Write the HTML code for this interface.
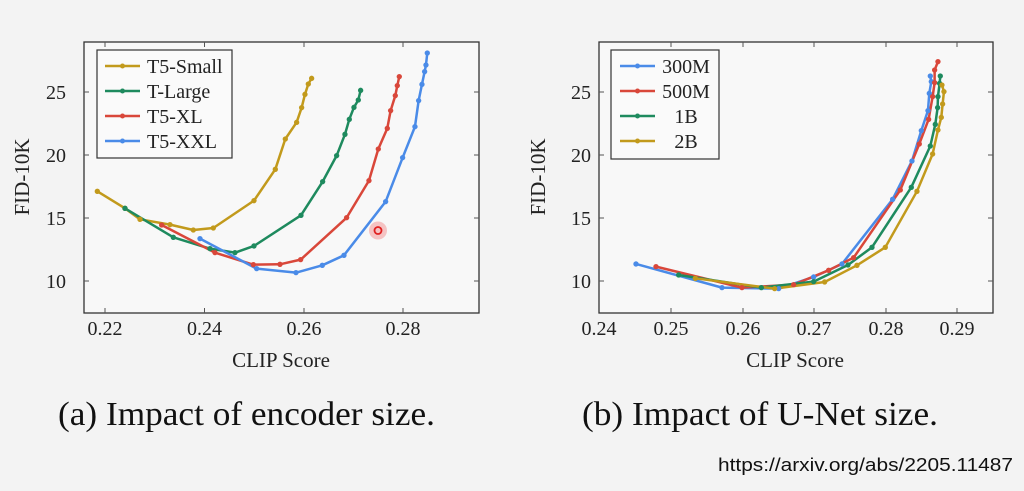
<!DOCTYPE html>
<html><head><meta charset="utf-8"><style>
html,body{margin:0;padding:0;background:#f3f3f3;}
svg{display:block;}
</style></head><body>
<svg width="1024" height="491" viewBox="0 0 1024 491" xmlns="http://www.w3.org/2000/svg" font-family="Liberation Serif, serif">
<rect width="1024" height="491" fill="#f3f3f3"/>
<!-- LEFT CHART -->
<rect x="84" y="42" width="395" height="271" fill="#f8f8f8" stroke="#333" stroke-width="1.3"/>
<g stroke="#555" stroke-width="1">
<line x1="105" y1="313" x2="105" y2="308"/><line x1="105" y1="42" x2="105" y2="47"/>
<line x1="204.5" y1="313" x2="204.5" y2="308"/><line x1="204.5" y1="42" x2="204.5" y2="47"/>
<line x1="304" y1="313" x2="304" y2="308"/><line x1="304" y1="42" x2="304" y2="47"/>
<line x1="403" y1="313" x2="403" y2="308"/><line x1="403" y1="42" x2="403" y2="47"/>
<line x1="84" y1="92" x2="89" y2="92"/><line x1="479" y1="92" x2="474" y2="92"/>
<line x1="84" y1="155" x2="89" y2="155"/><line x1="479" y1="155" x2="474" y2="155"/>
<line x1="84" y1="218" x2="89" y2="218"/><line x1="479" y1="218" x2="474" y2="218"/>
<line x1="84" y1="281" x2="89" y2="281"/><line x1="479" y1="281" x2="474" y2="281"/>
</g>
<g font-size="20" fill="#222" text-anchor="middle">
<text x="105" y="335">0.22</text><text x="204.5" y="335">0.24</text><text x="304" y="335">0.26</text><text x="403" y="335">0.28</text>
</g>
<g font-size="20" fill="#222" text-anchor="end">
<text x="66" y="99">25</text><text x="66" y="162">20</text><text x="66" y="225">15</text><text x="66" y="288">10</text>
</g>
<text x="281" y="367" font-size="21" text-anchor="middle" fill="#222">CLIP Score</text>
<text transform="translate(29,177) rotate(-90)" font-size="21" text-anchor="middle" fill="#222">FID-10K</text>

<g transform="translate(0,30) scale(0.3333)" fill="none" stroke-width="7.5" stroke-linejoin="round">
<polyline stroke="#c29a1c" points="292,484 375,535 420,568 510,584 580,600 640,594 762,512 826,418 856,327 890,277 905,233 915,193 925,162 935,145"/>
<polyline stroke="#1e8a5e" points="375,535 520,622 630,656 705,668 762,648 903,556 968,455 1010,377 1035,313 1048,268 1062,232 1075,210 1082,181"/>
<polyline stroke="#d9473a" points="485,585 645,668 760,704 840,703 902,689 1040,563 1107,452 1135,357 1162,295 1172,242 1186,197 1192,167 1198,140"/>
<polyline stroke="#4a8be8" points="600,626 770,716 888,728 967,706 1032,676 1157,515 1208,383 1245,290 1256,212 1266,163 1274,125 1278,105 1282,69"/>
</g>
<g transform="translate(0,30) scale(0.3333)">
<g fill="#c29a1c"><circle cx="292" cy="484" r="8"/><circle cx="375" cy="535" r="8"/><circle cx="420" cy="568" r="8"/><circle cx="510" cy="584" r="8"/><circle cx="580" cy="600" r="8"/><circle cx="640" cy="594" r="8"/><circle cx="762" cy="512" r="8"/><circle cx="826" cy="418" r="8"/><circle cx="856" cy="327" r="8"/><circle cx="890" cy="277" r="8"/><circle cx="905" cy="233" r="8"/><circle cx="915" cy="193" r="8"/><circle cx="925" cy="162" r="8"/><circle cx="935" cy="145" r="8"/></g>
<g fill="#1e8a5e"><circle cx="375" cy="535" r="8"/><circle cx="520" cy="622" r="8"/><circle cx="630" cy="656" r="8"/><circle cx="705" cy="668" r="8"/><circle cx="762" cy="648" r="8"/><circle cx="903" cy="556" r="8"/><circle cx="968" cy="455" r="8"/><circle cx="1010" cy="377" r="8"/><circle cx="1035" cy="313" r="8"/><circle cx="1048" cy="268" r="8"/><circle cx="1062" cy="232" r="8"/><circle cx="1075" cy="210" r="8"/><circle cx="1082" cy="181" r="8"/></g>
<g fill="#d9473a"><circle cx="485" cy="585" r="8"/><circle cx="645" cy="668" r="8"/><circle cx="760" cy="704" r="8"/><circle cx="840" cy="703" r="8"/><circle cx="902" cy="689" r="8"/><circle cx="1040" cy="563" r="8"/><circle cx="1107" cy="452" r="8"/><circle cx="1135" cy="357" r="8"/><circle cx="1162" cy="295" r="8"/><circle cx="1172" cy="242" r="8"/><circle cx="1186" cy="197" r="8"/><circle cx="1192" cy="167" r="8"/><circle cx="1198" cy="140" r="8"/></g>
<g fill="#4a8be8"><circle cx="600" cy="626" r="8"/><circle cx="770" cy="716" r="8"/><circle cx="888" cy="728" r="8"/><circle cx="967" cy="706" r="8"/><circle cx="1032" cy="676" r="8"/><circle cx="1157" cy="515" r="8"/><circle cx="1208" cy="383" r="8"/><circle cx="1245" cy="290" r="8"/><circle cx="1256" cy="212" r="8"/><circle cx="1266" cy="163" r="8"/><circle cx="1274" cy="125" r="8"/><circle cx="1278" cy="105" r="8"/><circle cx="1282" cy="69" r="8"/></g>
</g>
<circle cx="378" cy="230.5" r="9" fill="#f4a0a0" opacity="0.6"/>
<circle cx="378" cy="230.5" r="3.5" fill="none" stroke="#e02020" stroke-width="1.8"/>
<!-- left legend -->
<rect x="97" y="50" width="135" height="108" fill="#fafafa" stroke="#333" stroke-width="1.2"/>
<g stroke-width="2.5">
<line x1="105" y1="66" x2="140" y2="66" stroke="#c29a1c"/><circle cx="122.5" cy="66" r="2.5" fill="#c29a1c"/>
<line x1="105" y1="91" x2="140" y2="91" stroke="#1e8a5e"/><circle cx="122.5" cy="91" r="2.5" fill="#1e8a5e"/>
<line x1="105" y1="116" x2="140" y2="116" stroke="#d9473a"/><circle cx="122.5" cy="116" r="2.5" fill="#d9473a"/>
<line x1="105" y1="141" x2="140" y2="141" stroke="#4a8be8"/><circle cx="122.5" cy="141" r="2.5" fill="#4a8be8"/>
</g>
<g font-size="20" fill="#222">
<text x="147" y="73">T5-Small</text><text x="147" y="98">T-Large</text><text x="147" y="123">T5-XL</text><text x="147" y="148">T5-XXL</text>
</g>

<!-- RIGHT CHART -->
<rect x="599" y="42" width="394" height="271" fill="#f8f8f8" stroke="#333" stroke-width="1.3"/>
<g stroke="#555" stroke-width="1">
<line x1="671" y1="313" x2="671" y2="308"/><line x1="671" y1="42" x2="671" y2="47"/>
<line x1="743" y1="313" x2="743" y2="308"/><line x1="743" y1="42" x2="743" y2="47"/>
<line x1="814" y1="313" x2="814" y2="308"/><line x1="814" y1="42" x2="814" y2="47"/>
<line x1="886" y1="313" x2="886" y2="308"/><line x1="886" y1="42" x2="886" y2="47"/>
<line x1="957" y1="313" x2="957" y2="308"/><line x1="957" y1="42" x2="957" y2="47"/>
<line x1="599" y1="92" x2="604" y2="92"/><line x1="993" y1="92" x2="988" y2="92"/>
<line x1="599" y1="155" x2="604" y2="155"/><line x1="993" y1="155" x2="988" y2="155"/>
<line x1="599" y1="218" x2="604" y2="218"/><line x1="993" y1="218" x2="988" y2="218"/>
<line x1="599" y1="281" x2="604" y2="281"/><line x1="993" y1="281" x2="988" y2="281"/>
</g>
<g font-size="20" fill="#222" text-anchor="middle">
<text x="599" y="335">0.24</text><text x="671" y="335">0.25</text><text x="743" y="335">0.26</text><text x="814" y="335">0.27</text><text x="886" y="335">0.28</text><text x="957" y="335">0.29</text>
</g>
<g font-size="20" fill="#222" text-anchor="end">
<text x="591" y="99">25</text><text x="591" y="162">20</text><text x="591" y="225">15</text><text x="591" y="288">10</text>
</g>
<text x="795" y="367" font-size="21" text-anchor="middle" fill="#222">CLIP Score</text>
<text transform="translate(545,177) rotate(-90)" font-size="21" text-anchor="middle" fill="#222">FID-10K</text>

<g transform="translate(512,30) scale(0.3333)" fill="none" stroke-width="7.5" stroke-linejoin="round">
<polyline stroke="#4a8be8" points="372,702 630,773 800,776 905,741 990,702 1142,508 1200,393 1228,302 1248,242 1252,190 1258,155 1255,138"/>
<polyline stroke="#d9473a" points="432,710 690,773 845,764 950,721 1025,683 1165,480 1222,342 1250,268 1262,200 1268,158 1268,120 1278,95"/>
<polyline stroke="#1e8a5e" points="500,735 748,773 905,755 1008,705 1080,652 1198,472 1255,348 1270,283 1277,233 1278,200 1283,160 1285,138"/>
<polyline stroke="#c29a1c" points="550,745 788,776 938,756 1035,706 1120,652 1215,484 1262,372 1278,300 1288,262 1292,222 1296,185 1290,165"/>
</g>
<g transform="translate(512,30) scale(0.3333)">
<g fill="#4a8be8"><circle cx="372" cy="702" r="8"/><circle cx="630" cy="773" r="8"/><circle cx="800" cy="776" r="8"/><circle cx="905" cy="741" r="8"/><circle cx="990" cy="702" r="8"/><circle cx="1142" cy="508" r="8"/><circle cx="1200" cy="393" r="8"/><circle cx="1228" cy="302" r="8"/><circle cx="1248" cy="242" r="8"/><circle cx="1252" cy="190" r="8"/><circle cx="1258" cy="155" r="8"/><circle cx="1255" cy="138" r="8"/></g>
<g fill="#d9473a"><circle cx="432" cy="710" r="8"/><circle cx="690" cy="773" r="8"/><circle cx="845" cy="764" r="8"/><circle cx="950" cy="721" r="8"/><circle cx="1025" cy="683" r="8"/><circle cx="1165" cy="480" r="8"/><circle cx="1222" cy="342" r="8"/><circle cx="1250" cy="268" r="8"/><circle cx="1262" cy="200" r="8"/><circle cx="1268" cy="158" r="8"/><circle cx="1268" cy="120" r="8"/><circle cx="1278" cy="95" r="8"/></g>
<g fill="#1e8a5e"><circle cx="500" cy="735" r="8"/><circle cx="748" cy="773" r="8"/><circle cx="905" cy="755" r="8"/><circle cx="1008" cy="705" r="8"/><circle cx="1080" cy="652" r="8"/><circle cx="1198" cy="472" r="8"/><circle cx="1255" cy="348" r="8"/><circle cx="1270" cy="283" r="8"/><circle cx="1277" cy="233" r="8"/><circle cx="1278" cy="200" r="8"/><circle cx="1283" cy="160" r="8"/><circle cx="1285" cy="138" r="8"/></g>
<g fill="#c29a1c"><circle cx="550" cy="745" r="8"/><circle cx="788" cy="776" r="8"/><circle cx="938" cy="756" r="8"/><circle cx="1035" cy="706" r="8"/><circle cx="1120" cy="652" r="8"/><circle cx="1215" cy="484" r="8"/><circle cx="1262" cy="372" r="8"/><circle cx="1278" cy="300" r="8"/><circle cx="1288" cy="262" r="8"/><circle cx="1292" cy="222" r="8"/><circle cx="1296" cy="185" r="8"/><circle cx="1290" cy="165" r="8"/></g>
</g>
<!-- right legend -->
<rect x="611" y="50" width="108" height="109" fill="#fafafa" stroke="#333" stroke-width="1.2"/>
<g stroke-width="2.5">
<line x1="620" y1="66" x2="655" y2="66" stroke="#4a8be8"/><circle cx="637.5" cy="66" r="2.5" fill="#4a8be8"/>
<line x1="620" y1="91" x2="655" y2="91" stroke="#d9473a"/><circle cx="637.5" cy="91" r="2.5" fill="#d9473a"/>
<line x1="620" y1="116" x2="655" y2="116" stroke="#1e8a5e"/><circle cx="637.5" cy="116" r="2.5" fill="#1e8a5e"/>
<line x1="620" y1="141" x2="655" y2="141" stroke="#c29a1c"/><circle cx="637.5" cy="141" r="2.5" fill="#c29a1c"/>
</g>
<g font-size="20" fill="#222" text-anchor="middle">
<text x="686" y="73">300M</text><text x="686" y="98">500M</text><text x="686" y="123">1B</text><text x="686" y="148">2B</text>
</g>

<!-- captions -->
<text x="58" y="425" font-size="34" fill="#111" textLength="377" lengthAdjust="spacingAndGlyphs">(a) Impact of encoder size.</text>
<text x="582" y="425" font-size="34" fill="#111" textLength="356" lengthAdjust="spacingAndGlyphs">(b) Impact of U-Net size.</text>
<text x="718" y="471" font-size="18" fill="#111" font-family="Liberation Sans, sans-serif" textLength="295" lengthAdjust="spacingAndGlyphs">https://arxiv.org/abs/2205.11487</text>
</svg>
</body></html>
